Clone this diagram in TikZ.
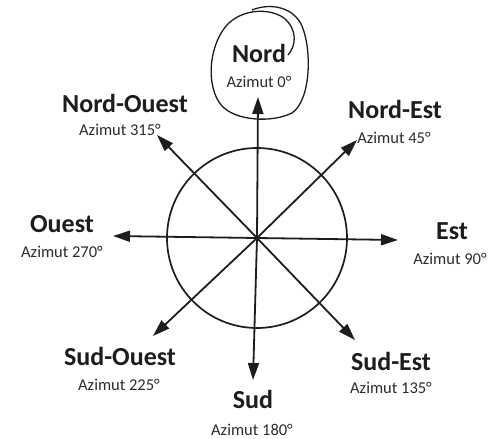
\documentclass[tikz,border=0pt]{standalone}
\usepackage{fontspec}
\setmainfont{Carlito}
\usetikzlibrary{arrows.meta}
\definecolor{ink}{RGB}{30,28,29}
\definecolor{inklight}{RGB}{45,43,43}
\tikzset{
  dir/.style={font=\fontsize{26}{30}\selectfont\bfseries, text=ink, anchor=base, inner sep=0pt},
  azi/.style={font=\fontsize{16.5}{19}\selectfont, text=inklight, anchor=base, inner sep=0pt},
  ray/.style={line width=1.8pt, draw=ink, -{Triangle[length=17pt,width=11pt]}},
  rim/.style={line width=1.7pt, draw=ink},
  pen/.style={line width=1.3pt, draw=ink}
}
\begin{document}
\begin{tikzpicture}[x=1pt,y=-1pt]
\useasboundingbox (0,0) rectangle (504,439);
\fill[white] (0,0) rectangle (504,439);
% centre and tips
\coordinate (c) at (257,238);
\coordinate (tN) at (258,97);
\coordinate (tE) at (398,240);
\coordinate (tW) at (113,236);
\coordinate (tS) at (253,380);
\coordinate (tNE) at (357,140);
\coordinate (tNW) at (157,135);
\coordinate (tSW) at (153,336);
\coordinate (tSE) at (355,340);
\draw[rim] (c) circle (90);
\foreach \t in {tN,tE,tW,tS,tNE,tNW,tSW,tSE} \draw[ray] (c) -- (\t);
% labels
\node[dir] (nN) at (259,62) {Nord};
\node[azi] (aN) at (259,87) {Azimut 0°};
\node[dir] (nNW) at (125,112) {Nord-Ouest};
\node[azi] (aNW) at (120,135) {Azimut 315°};
\node[dir] (nNE) at (395,118) {Nord-Est};
\node[azi] (aNE) at (394,143) {Azimut 45°};
\node[dir] (nW) at (62,232) {Ouest};
\node[azi] (aW) at (62,257) {Azimut 270°};
\node[dir] (nE) at (452,239) {Est};
\node[azi] (aE) at (450,264) {Azimut 90°};
\node[dir] (nSW) at (120,365) {Sud-Ouest};
\node[azi] (aSW) at (119,390) {Azimut 225°};
\node[dir] (nS) at (253,408) {Sud};
\node[azi] (aS) at (252,435) {Azimut 180°};
\node[dir] (nSE) at (391,370) {Sud-Est};
\node[azi] (aSE) at (391,393) {Azimut 135°};
% hand-drawn loop around Nord
\draw[pen] (288,55) .. controls (296,46) and (298,30) .. (284,18)
  .. controls (270,8) and (242,8) .. (226,26)
  .. controls (208,48) and (206,88) .. (222,106)
  .. controls (236,121) and (272,123) .. (292,113)
  .. controls (311,100) and (312,50) .. (302,26)
  .. controls (294,8) and (272,2) .. (252,10);
\end{tikzpicture}
\end{document}
